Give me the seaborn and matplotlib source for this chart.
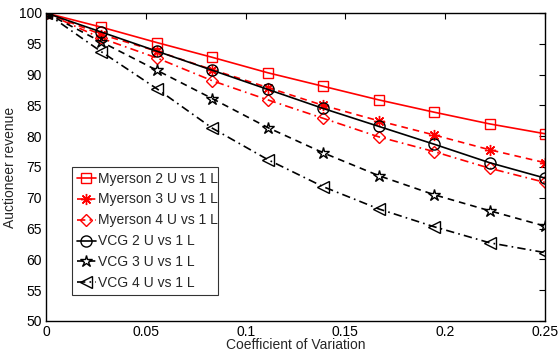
import numpy as np
import pandas as pd
import matplotlib
matplotlib.use("Agg")
import matplotlib.pyplot as plt
import seaborn as sns

cv = [0, 0.25/9, 0.5/9, 0.75/9, 1/9, 1.25/9, 1.5/9, 1.75/9, 2/9, 0.25]
myerson2 = [100, 97.7, 95.2, 92.8, 90.3, 88.1, 85.9, 83.9, 82.0, 80.4]
myerson3 = [100, 96.5, 93.8, 90.8, 87.9, 85.0, 82.5, 80.2, 77.8, 75.7]
myerson4 = [100, 95.9, 92.7, 89.0, 85.9, 82.9, 79.9, 77.5, 74.8, 72.5]
vcg2 = [100, 96.9, 93.8, 90.7, 87.6, 84.5, 81.6, 78.7, 75.7, 73.2]
vcg3 = [100, 95.3, 90.7, 86.1, 81.4, 77.3, 73.6, 70.5, 67.9, 65.4]
vcg4 = [100, 93.7, 87.7, 81.3, 76.2, 71.8, 68.2, 65.3, 62.7, 61.1]

labels = ["Myerson 2 U vs 1 L", "Myerson 3 U vs 1 L", "Myerson 4 U vs 1 L",
          "VCG 2 U vs 1 L", "VCG 3 U vs 1 L", "VCG 4 U vs 1 L"]
series = [myerson2, myerson3, myerson4, vcg2, vcg3, vcg4]
colors = ["#ff0000"] * 3 + ["#000000"] * 3
styles = ["-", (0, (4, 3)), (0, (5, 2.5, 1, 2.5)), "-", (0, (4, 3)), (0, (5, 2.5, 1, 2.5))]
markers = ["s", (8, 2, 0), "D", "o", "*", "<"]
msizes = [7, 8, 6, 8, 9, 8]

xticks = [0, 0.05, 0.1, 0.15, 0.2, 0.25]
xticklabels = ["0", "0.05", "0.1", "0.15", "0.2", "0.25"]
yticks = list(range(50, 101, 5))

sns.set_theme(style="white")
plt.rcParams['font.family'] = ['Liberation Sans', 'DejaVu Sans']

fig = plt.figure(figsize=(5.6, 3.54), dpi=100)
ax = fig.add_axes([46/560, 1-321/354, 499/560, 308/354])

for lab, vals, c, ls, m, ms in zip(labels, series, colors, styles, markers, msizes):
    df = pd.DataFrame({"cv": cv, "rev": vals})
    sns.lineplot(data=df, x="cv", y="rev", ax=ax, color=c, linestyle=ls,
                 marker=m, markersize=ms, markerfacecolor="none",
                 markeredgecolor=c, markeredgewidth=1.0, linewidth=1.2,
                 label=lab)

ax.set_xlim(0, 0.25)
ax.set_ylim(50, 100)
ax.set_xticks(xticks)
ax.set_xticklabels(xticklabels)
ax.set_yticks(yticks)
ax.tick_params(direction="in", top=True, right=True, length=4, width=0.8,
               labelsize=10, colors="black", pad=3)
for s in ax.spines.values():
    s.set_visible(True)
    s.set_color("black")
    s.set_linewidth(1.0)
ax.set_xlabel("Coefficient of Variation", fontsize=10, labelpad=-1)
ax.set_ylabel("Auctioneer revenue", fontsize=10, labelpad=1)

leg = ax.legend(loc="lower left", bbox_to_anchor=(0.052, 0.084, 0.293, 0.425),
                mode="expand", fontsize=10, frameon=True, fancybox=False,
                borderaxespad=0, handlelength=1.35, handletextpad=0.15,
                labelspacing=0.5, borderpad=0.35)
leg.get_frame().set_edgecolor("black")
leg.get_frame().set_linewidth(0.8)

fig.savefig("out.png", dpi=100)
